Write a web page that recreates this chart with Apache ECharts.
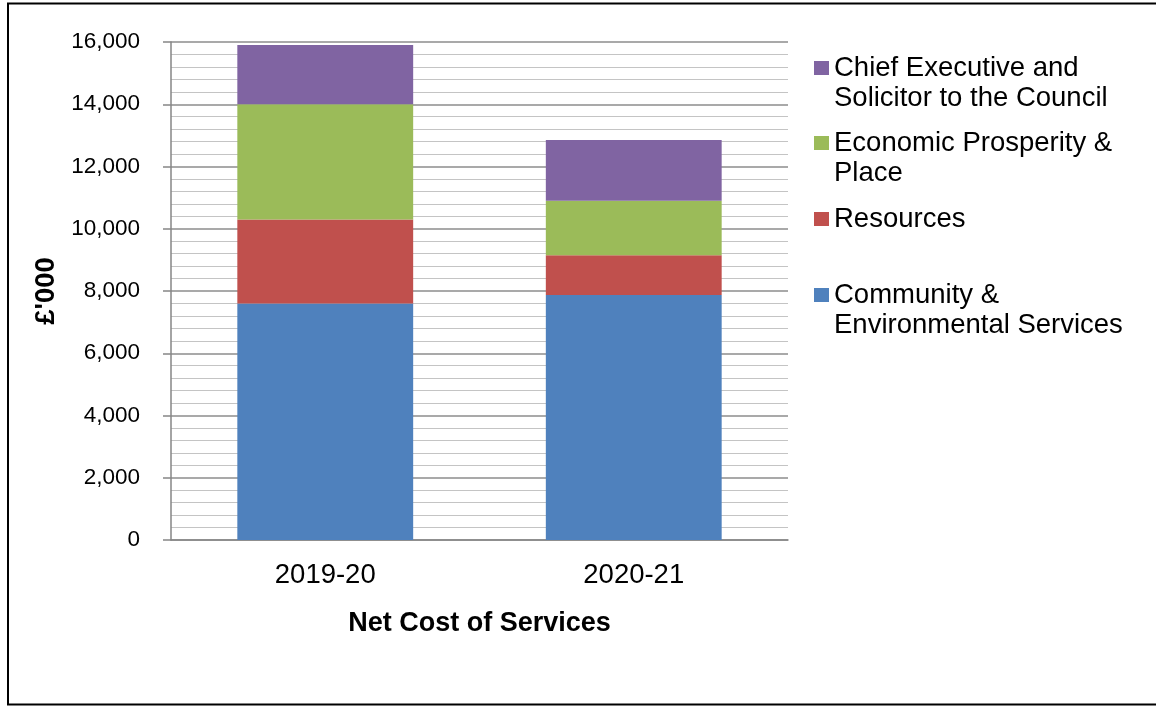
<!DOCTYPE html>
<html>
<head>
<meta charset="utf-8">
<script src="https://cdn.jsdelivr.net/npm/echarts@6/dist/echarts.min.js"></script>
<style>
html,body{margin:0;padding:0;background:#fff;}
#chart{width:1156px;height:706px;}
</style>
</head>
<body>
<div id="chart"></div>
<script>
const categories = ['2019-20', '2020-21'];
const seriesNames = ['Community &\nEnvironmental Services', 'Resources', 'Economic Prosperity &\nPlace', 'Chief Executive and\nSolicitor to the Council'];
const community = [7600, 7870];
const resources = [2700, 1280];
const economic = [3700, 1750];
const chiefExec = [1900, 1950];
const yTicks = { min: 0, max: 16000, interval: 2000 };
const colors = ['#4F81BD', '#C0504D', '#9BBB59', '#8064A2'];
const values = [community, resources, economic, chiefExec];

const FONT = "'Liberation Sans', Arial, sans-serif";
const chart = echarts.init(document.getElementById('chart'), null, { renderer: 'canvas' });

// square marker on the first text line: a 15x14 square plus an invisible speck 30px lower
const TWO_LINE_ICON = 'path://M0,0H15V14H0Z M0,44H0.01V44.01H0Z';

function legendFor(idx, top) {
  const twoLine = seriesNames[idx].indexOf('\n') >= 0;
  return {
    left: 814,
    top: top,
    orient: 'vertical',
    padding: 0,
    itemWidth: 15,
    itemHeight: twoLine ? 44 : 14,
    selectedMode: false,
    symbolKeepAspect: false,
    data: [{
      name: seriesNames[idx],
      icon: twoLine ? TWO_LINE_ICON : 'rect',
      itemStyle: { color: colors[idx] },
      textStyle: { fontFamily: FONT, fontSize: 27.5, color: '#000', lineHeight: 30 }
    }]
  };
}

const option = {
  animation: false,
  backgroundColor: '#fff',
  color: colors,
  textStyle: { fontFamily: FONT },
  graphic: [{
    type: 'rect',
    shape: { x: 8, y: 3.5, width: 1170, height: 701 },
    style: { fill: 'none', stroke: '#000', lineWidth: 2 },
    silent: true, z: 100
  }],
  legend: [
    legendFor(3, 53),
    legendFor(2, 128),
    legendFor(1, 204),
    legendFor(0, 280)
  ],
  grid: { left: 171, right: 368, top: 42, bottom: 166, containLabel: false },
  xAxis: {
    type: 'category',
    data: categories,
    name: 'Net Cost of Services',
    nameLocation: 'middle',
    nameGap: 70,
    nameTextStyle: { fontFamily: FONT, fontSize: 27, fontWeight: 'bold', color: '#000' },
    axisLine: { lineStyle: { color: '#868686', width: 1.5 } },
    axisTick: { show: false },
    axisLabel: { fontFamily: FONT, fontSize: 27.5, color: '#000', margin: 21 },
    splitLine: { show: false }
  },
  yAxis: {
    type: 'value',
    min: yTicks.min,
    max: yTicks.max,
    interval: yTicks.interval,
    name: "£'000",
    nameLocation: 'middle',
    nameRotate: 90,
    nameGap: 110,
    nameTextStyle: { fontFamily: FONT, fontSize: 27.5, fontWeight: 'bold', color: '#000' },
    axisLine: { show: true, lineStyle: { color: '#868686', width: 1.5 } },
    axisTick: { show: true, length: 8, lineStyle: { color: '#868686', width: 1.5 } },
    axisLabel: {
      fontFamily: FONT, fontSize: 22.5, color: '#000', margin: 31,
      formatter: v => v.toLocaleString('en-US')
    },
    splitLine: { show: true, lineStyle: { color: '#8C8C8C', width: 1.5 } },
    minorTick: { show: false, splitNumber: 5 },
    minorSplitLine: { show: true, lineStyle: { color: '#C4C4C4', width: 1.2 } }
  },
  series: values.map((arr, i) => ({
    name: seriesNames[i],
    type: 'bar',
    stack: 'total',
    data: arr,
    barCategoryGap: '43%',
    itemStyle: { color: colors[i] }
  }))
};
chart.setOption(option);
</script>
</body>
</html>
